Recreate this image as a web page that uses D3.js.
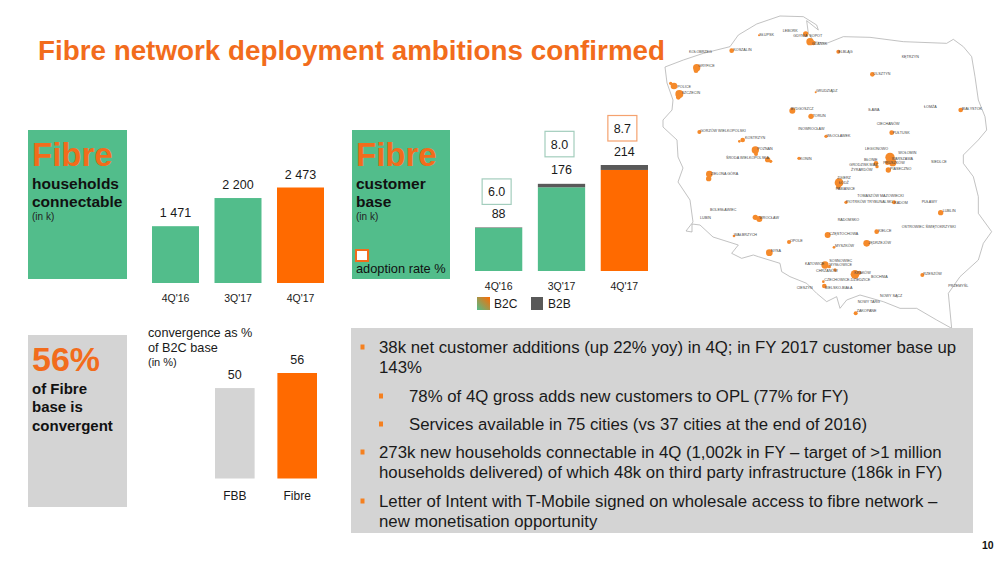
<!doctype html>
<html>
  <head>
    <meta charset="utf-8">
    <script src="https://d3js.org/d3.v7.min.js"></script>
    <style>
      html, body { margin: 0; padding: 0; background: #fff; }
      svg { display: block; }
      text { font-family: "Liberation Sans", Arial, sans-serif; fill: #1a1a1a; }
    </style>
  </head>
  <body>
    <script>
    // chart values
    var quarters = ["4Q'16", "3Q'17", "4Q'17"];
    var households = [1471, 2200, 2473];
    var householdLabels = ["1 471", "2 200", "2 473"];

    var b2c = [87, 169, 204];
    var b2b = [1, 7, 10];
    var customerTotals = [88, 176, 214];
    var adoption = ["6.0", "8.0", "8.7"];

    var convCategories = ["FBB", "Fibre"];
    var convValues = [50, 56];

    var bullets = [
      [0, "38k net customer additions (up 22% yoy) in 4Q; in FY 2017 customer base up", true],
      [0, "143%", false],
      [1, "78% of 4Q gross adds new customers to OPL (77% for FY)", true],
      [1, "Services available in 75 cities (vs 37 cities at the end of 2016)", true],
      [0, "273k new households connectable in 4Q (1,002k in FY \u2013 target of >1 million", true],
      [0, "households delivered) of which 48k on third party infrastructure (186k in FY)", false],
      [0, "Letter of Intent with T-Mobile signed on wholesale access to fibre network \u2013", true],
      [0, "new monetisation opportunity", false]
    ];
    var bulletBaselines = [353, 373, 402, 430, 458, 478, 507, 527];

    // map, in map units
    var outline = [[-15,201],[40,180],[100,160],[180,140],[205,105],[260,72],[330,48],[400,50],[440,75],[445,90],[410,62],[415,100],[432,125],[470,130],[520,110],[600,112],[700,125],[830,130],[850,118],[880,140],[905,170],[915,230],[925,300],[945,350],[950,390],[925,420],[880,465],[880,490],[910,530],[925,590],[925,640],[965,695],[940,730],[925,780],[870,830],[835,880],[845,985],[800,960],[740,925],[690,925],[640,905],[570,885],[530,900],[510,925],[500,890],[470,905],[440,880],[410,850],[360,830],[335,815],[330,790],[265,770],[250,765],[215,775],[185,760],[205,735],[129,711],[90,675],[66,672],[66,696],[48,693],[69,666],[60,600],[24,546],[39,504],[24,471],[21,420],[-21,381],[-21,360],[6,330],[9,300],[-9,249],[-15,201]];

    var blobs = [[407,102,8],[420,125,11],[430,129,7],[185,152,7],[505,155,6],[607,223,7],[437,277,3],[80,203,11],[78,212,7],[12,258,10],[2,250,5],[28,282,12],[25,292,7],[367,332,9],[423,349,8],[872,330,7],[665,398,7],[468,409,5],[88,396,6],[218,420,7],[208,424,4],[256,450,11],[258,462,6],[293,479,8],[302,484,5],[387,475,5],[660,472,14],[668,488,11],[652,488,7],[655,510,8],[618,490,7],[621,500,5],[118,522,10],[116,536,8],[507,548,13],[505,560,7],[528,607,5],[672,607,6],[812,638,8],[256,652,8],[268,657,9],[620,695,7],[192,708,4],[357,726,6],[473,705,9],[492,742,4],[590,730,10],[298,758,10],[465,795,11],[478,800,5],[495,810,5],[555,823,13],[568,818,6],[757,825,6],[460,845,4],[463,858,7],[557,940,6],[267,106,3]];

    var cities = [["LEBORK",338,93],["SŁUPSK",268,105],["GDYNIA",370,106],["SOPOT",418,108],["GDAŃSK",425,130],["KOŁOBRZEG",57,155],["KOSZALIN",190,150],["ELBLĄG",505,155],["KĘTRZYN",695,171],["OLSZTYN",610,222],["GRUDZIĄDZ",438,271],["GRYFICE",85,198],["POLICE",22,259],["SZCZECIN",35,279],["BYDGOSZCZ",362,327],["TORUŃ",428,346],["IŁAWA",595,330],["ŁOMŻA",762,321],["BIAŁYSTOK",875,327],["CIECHANÓW",620,370],["PUŁTUSK",668,398],["INOWROCŁAW",385,385],["WŁOCŁAWEK",470,407],["GORZÓW WIELKOPOLSKI",90,393],["KOSTRZYN",225,412],["POZNAŃ",262,446],["ŚRODA WIELKOPOLSKA",168,474],["KONIN",390,475],["LEGIONOWO",585,447],["WOŁOMIN",685,457],["BŁONIE",582,480],["GRODZISK MAZ.",538,494],["ŻYRARDÓW",543,510],["WARSZAWA",665,475],["PRUSZKÓW",640,488],["PIASECZNO",660,505],["SIEDLCE",783,486],["ZIELONA GÓRA",122,522],["ZGIERZ",502,533],["ŁÓDŹ",507,549],["PABIANICE",497,566],["TOMASZÓW MAZOWIECKI",562,587],["PIOTRKÓW TRYBUNALSKI",528,605],["RADOM",672,607],["PUŁAWY",755,606],["LUBLIN",818,633],["BOLESŁAWIEC",120,630],["LUBIN",90,652],["WROCŁAW",268,653],["RADOMSKO",503,659],["KIELCE",625,691],["OSTROWIEC ŚWIĘTOKRZYSKI",695,679],["WAŁBRZYCH",192,703],["OPOLE",360,722],["CZĘSTOCHOWA",478,700],["MYSZKÓW",495,737],["JĘDRZEJÓW",595,727],["NYSA",303,753],["KATOWICE",405,790],["SOSNOWIEC",478,782],["MYSŁOWICE",478,793],["CHRZANÓW",438,813],["KRAKÓW",553,818],["BOCHNIA",603,830],["RZESZÓW",760,822],["PRZEMYŚL",835,858],["CZECHOWICE-DZIEDZICE",463,840],["BIELSKO-BIAŁA",465,862],["CIESZYN",380,863],["NOWY SĄCZ",630,886],["NOWY TARG",563,904],["ZAKOPANE",560,932]];

    var width = 1000;
    var height = 562;
    var green = "#52bd8b";
    var orange = "#ff6a00";
    var textOrange = "#f26c1c";
    var grey = "#d4d4d4";
    var dark = "#595959";

    var svg = d3.select("body")
              .append("svg")
              .attr("width", width)
              .attr("height", height);

    var defs = svg.append("defs");
    var grad = defs.append("linearGradient")
              .attr("id", "legendGrad")
              .attr("x1", 1).attr("y1", 0).attr("x2", 0).attr("y2", 1);
    grad.append("stop").attr("offset", "0%").attr("stop-color", orange);
    grad.append("stop").attr("offset", "100%").attr("stop-color", green);

    defs.append("filter")
      .attr("id", "soft")
      .append("feGaussianBlur")
      .attr("stdDeviation", 0.4);

    // map goes first, the grey panel sits on top of its south edge
    var mapX = d3.scaleLinear().domain([0, 990]).range([670, 1000]);
    var mapY = d3.scaleLinear().domain([0, 990]).range([0, 330]);
    var mapR = d3.scaleLinear().domain([0, 990]).range([0, 330]);

    var mapLine = d3.line()
              .x(function(d) { return mapX(d[0]); })
              .y(function(d) { return mapY(d[1]); });

    svg.append("path")
      .datum(outline)
      .attr("fill", "none")
      .attr("stroke", "#a8a8a8")
      .attr("stroke-width", 0.7)
      .attr("d", mapLine);

    svg.append("g")
      .attr("filter", "url(#soft)")
      .selectAll(".blob")
      .data(blobs)
      .enter()
      .append("circle")
        .attr("class", "blob")
        .attr("fill", "#f58a2a")
        .attr("cx", function(d) { return mapX(d[0]); })
        .attr("cy", function(d) { return mapY(d[1]); })
        .attr("r", function(d) { return mapR(d[2]); });

    svg.selectAll(".city")
      .data(cities)
      .enter()
      .append("text")
        .attr("class", "city")
        .attr("x", function(d) { return mapX(d[1]); })
        .attr("y", function(d) { return mapY(d[2]) + 1.3; })
        .style("font-size", "3.7px")
        .style("fill", "#444")
        .text(function(d) { return d[0]; });

    // title
    svg.append("text")
      .attr("x", 38)
      .attr("y", 60)
      .style("font-size", "27.8px")
      .style("font-weight", "bold")
      .style("fill", textOrange)
      .text("Fibre network deployment ambitions confirmed");

    function panel(x, y, w, h, fill) {
      svg.append("rect")
        .attr("x", x).attr("y", y)
        .attr("width", w).attr("height", h)
        .attr("fill", fill);
    }

    function label(x, y, size, txt, bold, color) {
      return svg.append("text")
        .attr("x", x).attr("y", y)
        .style("font-size", size + "px")
        .style("font-weight", bold ? "bold" : "normal")
        .style("fill", color || "#1a1a1a")
        .text(txt);
    }

    // text panels
    panel(28, 130, 99, 149, green);
    label(32, 166, 33, "Fibre", true, textOrange);
    label(32, 189, 15.5, "households", true, "#111");
    label(32, 207, 15.5, "connectable", true, "#111");
    label(32, 220, 10, "(in k)", false, "#222");

    panel(352, 130, 98, 149, green);
    label(356, 166, 33, "Fibre", true, textOrange);
    label(356, 189, 15.5, "customer", true, "#111");
    label(356, 207, 15.5, "base", true, "#111");
    label(356, 220, 10, "(in k)", false, "#222");
    svg.append("rect")
      .attr("x", 356).attr("y", 250)
      .attr("width", 12).attr("height", 11)
      .attr("fill", "#fff")
      .attr("stroke", textOrange)
      .attr("stroke-width", 2);
    label(356, 273, 12.8, "adoption rate %", false, "#111");

    panel(28, 335, 99, 172, grey);
    label(32, 371, 34, "56%", true, textOrange);
    label(32, 394, 15, "of Fibre", true, "#111");
    label(32, 412, 15, "base is", true, "#111");
    label(32, 431, 15, "convergent", true, "#111");

    function cleanAxis(g, offset, size) {
      g.select(".domain").remove();
      g.selectAll("line").remove();
      g.selectAll("text")
        .attr("y", offset)
        .attr("dy", 0)
        .style("font-size", size + "px")
        .style("font-family", '"Liberation Sans", Arial, sans-serif')
        .style("fill", "#1a1a1a");
    }

    // households connectable
    var x1 = d3.scaleBand().domain(quarters).range([152, 324]).paddingInner(0.248);
    var y1 = d3.scaleLinear().domain([0, 2473]).range([283, 187.5]);

    svg.selectAll(".hh-bar")
      .data(households)
      .enter()
      .append("rect")
        .attr("class", "hh-bar")
        .attr("x", function(d, i) { return x1(quarters[i]); })
        .attr("y", function(d) { return y1(d); })
        .attr("width", x1.bandwidth())
        .attr("height", function(d) { return y1(0) - y1(d); })
        .attr("fill", function(d, i) { return i == 2 ? orange : green; });

    svg.selectAll(".hh-label")
      .data(households)
      .enter()
      .append("text")
        .attr("class", "hh-label")
        .attr("x", function(d, i) { return x1(quarters[i]) + x1.bandwidth() / 2; })
        .attr("y", function(d) { return y1(d) - 9; })
        .attr("text-anchor", "middle")
        .style("font-size", "12.5px")
        .text(function(d, i) { return householdLabels[i]; });

    svg.append("g")
      .attr("transform", "translate(0,283)")
      .call(d3.axisBottom(x1).tickSize(0))
      .call(cleanAxis, 18.5, 10.5);

    // customer base
    var x2 = d3.scaleBand().domain(quarters).range([475, 648]).paddingInner(0.248);
    var y2 = d3.scaleLinear().domain([0, 214]).range([271, 165]);

    svg.selectAll(".b2c-bar")
      .data(b2c)
      .enter()
      .append("rect")
        .attr("class", "b2c-bar")
        .attr("x", function(d, i) { return x2(quarters[i]); })
        .attr("y", function(d) { return y2(d); })
        .attr("width", x2.bandwidth())
        .attr("height", function(d) { return y2(0) - y2(d); })
        .attr("fill", function(d, i) { return i == 2 ? orange : green; });

    svg.selectAll(".b2b-bar")
      .data(b2b)
      .enter()
      .append("rect")
        .attr("class", "b2b-bar")
        .attr("x", function(d, i) { return x2(quarters[i]); })
        .attr("y", function(d, i) { return y2(b2c[i] + d); })
        .attr("width", x2.bandwidth())
        .attr("height", function(d) { return y2(0) - y2(d); })
        .attr("fill", dark);

    svg.selectAll(".cust-label")
      .data(customerTotals)
      .enter()
      .append("text")
        .attr("class", "cust-label")
        .attr("x", function(d, i) { return x2(quarters[i]) + x2.bandwidth() / 2; })
        .attr("y", function(d) { return y2(d) - 9.5; })
        .attr("text-anchor", "middle")
        .style("font-size", "12.5px")
        .text(function(d) { return d; });

    // adoption rate boxes, gap above each bar differs a bit in the original
    var boxGap = [23, 27, 24];
    var boxW = 29;
    var boxH = 25.5;

    svg.selectAll(".ad-box")
      .data(adoption)
      .enter()
      .append("rect")
        .attr("class", "ad-box")
        .attr("x", function(d, i) { return x2(quarters[i]) + x2.bandwidth() / 2 - boxW / 2 - 2; })
        .attr("y", function(d, i) { return y2(customerTotals[i]) - boxGap[i] - boxH; })
        .attr("width", boxW)
        .attr("height", boxH)
        .attr("fill", "#fff")
        .attr("stroke", function(d, i) { return i == 2 ? "#f5a26f" : "#a3cdbd"; })
        .attr("stroke-width", 1.2);

    svg.selectAll(".ad-label")
      .data(adoption)
      .enter()
      .append("text")
        .attr("class", "ad-label")
        .attr("x", function(d, i) { return x2(quarters[i]) + x2.bandwidth() / 2 - 2; })
        .attr("y", function(d, i) { return y2(customerTotals[i]) - boxGap[i] - 8; })
        .attr("text-anchor", "middle")
        .style("font-size", "12.5px")
        .text(function(d) { return d; });

    svg.append("g")
      .attr("transform", "translate(0,271)")
      .call(d3.axisBottom(x2).tickSize(0))
      .call(cleanAxis, 19, 10.5);

    // legend
    panel(477, 297, 13, 13, "url(#legendGrad)");
    label(494, 308, 12, "B2C");
    panel(531, 297, 12, 13, dark);
    label(548, 308, 12, "B2B");

    // convergence
    label(148, 337, 12.7, "convergence as %");
    label(148, 352, 12.7, "of B2C base");
    label(148, 366, 11, "(in %)");

    var x3 = d3.scaleBand().domain(convCategories).range([215, 317]).paddingInner(0.365);
    var y3 = d3.scaleLinear().domain([14, 56]).range([478.5, 373]);

    svg.selectAll(".conv-bar")
      .data(convValues)
      .enter()
      .append("rect")
        .attr("class", "conv-bar")
        .attr("x", function(d, i) { return x3(convCategories[i]); })
        .attr("y", function(d) { return y3(d); })
        .attr("width", x3.bandwidth())
        .attr("height", function(d) { return y3(14) - y3(d); })
        .attr("fill", function(d, i) { return i == 1 ? orange : grey; });

    svg.selectAll(".conv-label")
      .data(convValues)
      .enter()
      .append("text")
        .attr("class", "conv-label")
        .attr("x", function(d, i) { return x3(convCategories[i]) + x3.bandwidth() / 2; })
        .attr("y", function(d) { return y3(d) - 9; })
        .attr("text-anchor", "middle")
        .style("font-size", "12.5px")
        .text(function(d) { return d; });

    svg.append("g")
      .attr("transform", "translate(0,478.5)")
      .call(d3.axisBottom(x3).tickSize(0))
      .call(cleanAxis, 21, 12);

    // commentary panel
    panel(351, 328, 622, 205, grey);

    svg.selectAll(".bullet-mark")
      .data(bullets.filter(function(d) { return d[2]; }))
      .enter()
      .append("rect")
        .attr("class", "bullet-mark")
        .attr("x", function(d) { return d[0] ? 379 : 360.5; })
        .attr("y", function(d) { return bulletBaselines[bullets.indexOf(d)] - 8.5; })
        .attr("width", 4)
        .attr("height", 5)
        .attr("fill", "#f5801f");

    svg.selectAll(".bullet-text")
      .data(bullets)
      .enter()
      .append("text")
        .attr("class", "bullet-text")
        .attr("x", function(d) { return d[0] ? 409 : 379; })
        .attr("y", function(d, i) { return bulletBaselines[i]; })
        .style("font-size", "16.8px")
        .text(function(d) { return d[1]; });

    label(982, 549, 10.5, "10", true, "#111");
    </script>
  </body>
</html>
